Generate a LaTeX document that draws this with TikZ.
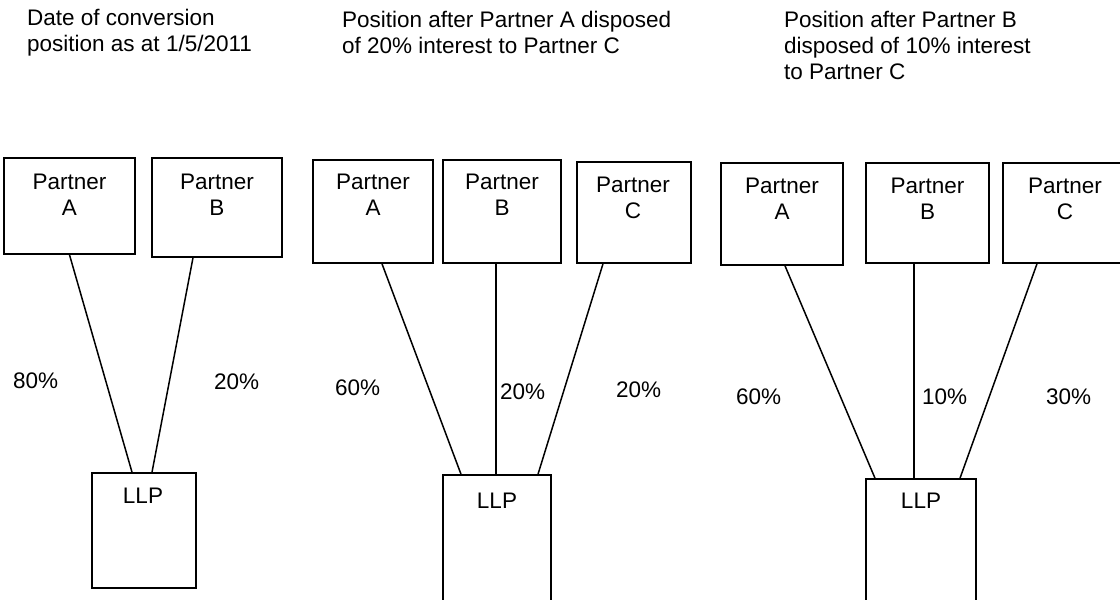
\documentclass[tikz,border=0pt]{standalone}
\usepackage{fontspec}
\setmainfont{Liberation Sans}
\begin{document}
\begin{tikzpicture}[x=1pt,y=-1pt,
  box/.style={draw,line width=1.6pt,inner sep=0pt},
  txt/.style={inner sep=0pt,font=\fontsize{22.5}{26}\selectfont},
  boxtxt/.style={txt,align=center,anchor=north},
  title/.style={txt,align=left,anchor=north west},
  pct/.style={txt,anchor=base west},
  link/.style={line width=1.5pt}]
\useasboundingbox (0,0) rectangle (1120,600);
\clip (0,0) rectangle (1120,600);
\fill[white] (0,0) rectangle (1120,600);

% titles
\node[title] (t1) at (27,9) {Date of conversion\\position as at 1/5/2011};
\node[title] (t2) at (342,11) {Position after Partner A disposed\\of 20\% interest to Partner C};
\node[title] (t3) at (784,11) {Position after Partner B\\disposed of 10\% interest\\to Partner C};

% group 1
\node[box,minimum width=131pt,minimum height=96pt] (a1) at (69.5,206) {};
\node[box,minimum width=130pt,minimum height=99pt] (b1) at (217,207.5) {};
\node[box,minimum width=104pt,minimum height=115pt] (l1) at (144,530.5) {};
\node[boxtxt] (a1t) at (69.5,174) {Partner\\A};
\node[boxtxt] (b1t) at (217,174) {Partner\\B};
\node[boxtxt] (l1t) at (143,488) {LLP};
\draw[link] (a1.south) -- ([xshift=-12pt]l1.north);
\draw[link] ([xshift=-24pt]b1.south) -- ([xshift=8pt]l1.north);
\node[pct] (p1a) at (13,388) {80\%};
\node[pct] (p1b) at (214,389) {20\%};

% group 2
\node[box,minimum width=120pt,minimum height=103pt] (a2) at (373,211.5) {};
\node[box,minimum width=118pt,minimum height=103pt] (b2) at (502,211.5) {};
\node[box,minimum width=114pt,minimum height=101pt] (c2) at (634,212.5) {};
\node[box,minimum width=108pt,minimum height=140pt] (l2) at (497,545) {};
\node[boxtxt] (a2t) at (373,174) {Partner\\A};
\node[boxtxt] (b2t) at (502,174) {Partner\\B};
\node[boxtxt] (c2t) at (633,177) {Partner\\C};
\node[boxtxt] (l2t) at (497,493) {LLP};
\draw[link] ([xshift=9pt]a2.south) -- ([xshift=-36pt]l2.north);
\draw[link] ([xshift=-6pt]b2.south) -- ([xshift=-1pt]l2.north);
\draw[link] ([xshift=-31pt]c2.south) -- ([xshift=41pt]l2.north);
\node[pct] (p2a) at (335,395) {60\%};
\node[pct] (p2b) at (500,399) {20\%};
\node[pct] (p2c) at (616,397) {20\%};

% group 3
\node[box,minimum width=122pt,minimum height=102pt] (a3) at (782,214) {};
\node[box,minimum width=123pt,minimum height=100pt] (b3) at (927.5,213) {};
\node[box,minimum width=124pt,minimum height=100pt] (c3) at (1065,213) {};
\node[box,minimum width=110pt,minimum height=136pt] (l3) at (921,547) {};
\node[boxtxt] (a3t) at (782,178) {Partner\\A};
\node[boxtxt] (b3t) at (927.5,178) {Partner\\B};
\node[boxtxt] (c3t) at (1065,178) {Partner\\C};
\node[boxtxt] (l3t) at (921,493) {LLP};
\draw[link] ([xshift=3pt]a3.south) -- ([xshift=-46pt]l3.north);
\draw[link] ([xshift=-13.5pt]b3.south) -- ([xshift=-7pt]l3.north);
\draw[link] ([xshift=-28pt]c3.south) -- ([xshift=39pt]l3.north);
\node[pct] (p3a) at (736,404) {60\%};
\node[pct] (p3b) at (922,404) {10\%};
\node[pct] (p3c) at (1046,404) {30\%};
\end{tikzpicture}
\end{document}
